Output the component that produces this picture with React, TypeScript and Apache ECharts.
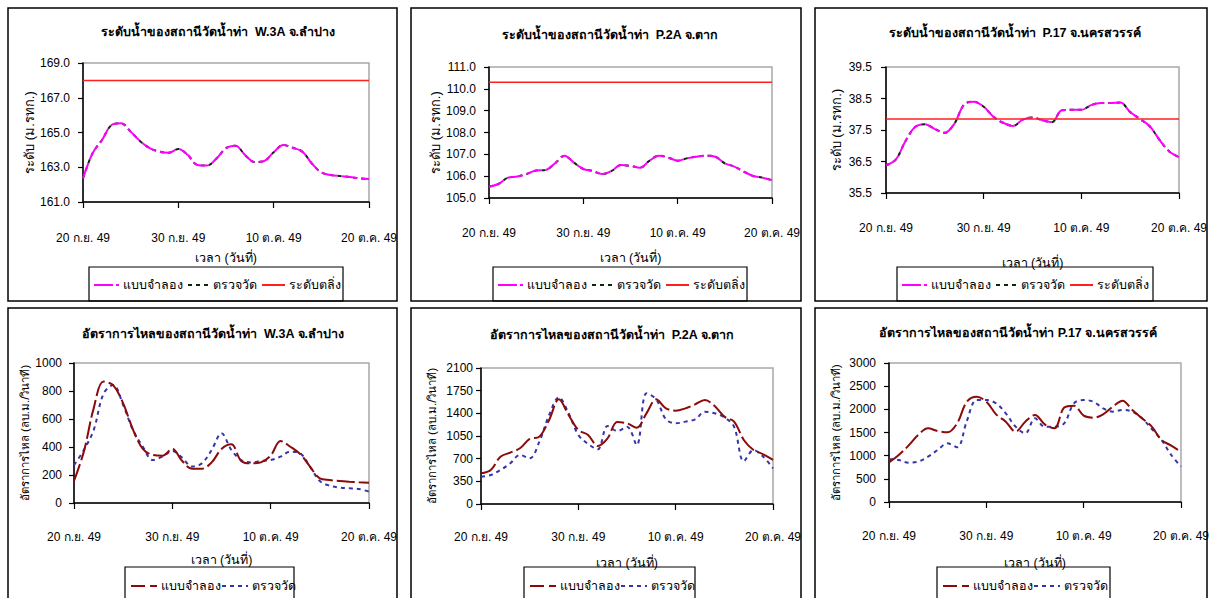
import React, { useEffect, useRef } from "react";
import * as echarts from "echarts";

// ---------- data ----------
const X_TICKS = [0, 10, 20, 30];
const X_TICK_LABELS = ["20 ก.ย. 49", "30 ก.ย. 49", "10 ต.ค. 49", "20 ต.ค. 49"];
const X_NAME = "เวลา (วันที่)";

const TITLES = [
  "ระดับน้ำของสถานีวัดน้ำท่า  W.3A จ.ลำปาง",
  "ระดับน้ำของสถานีวัดน้ำท่า  P.2A จ.ตาก",
  "ระดับน้ำของสถานีวัดน้ำท่า  P.17 จ.นครสวรรค์",
  "อัตราการไหลของสถานีวัดน้ำท่า  W.3A จ.ลำปาง",
  "อัตราการไหลของสถานีวัดน้ำท่า  P.2A จ.ตาก",
  "อัตราการไหลของสถานีวัดน้ำท่า P.17 จ.นครสวรรค์",
];
const Y_NAME_LEVEL = "ระดับ (ม.รทก.)";
const Y_NAME_FLOW = "อัตราการไหล (ลบ.ม./วินาที)";
const NAME_MODEL = "แบบจำลอง";
const NAME_OBS = "ตรวจวัด";
const NAME_BANK = "ระดับตลิ่ง";

// water levels (model and observed coincide)
const LEVEL_W3A = [162.36, 163.8, 164.57, 165.43, 165.53, 165.05, 164.5, 164.1, 163.9, 163.84, 164.05, 163.7, 163.13, 163.1, 163.5, 164.1, 164.24, 163.7, 163.3, 163.36, 163.86, 164.28, 164.12, 163.9, 163.22, 162.7, 162.55, 162.49, 162.44, 162.36, 162.32];
const LEVEL_P2A = [105.52, 105.64, 105.93, 105.98, 106.1, 106.26, 106.28, 106.59, 106.94, 106.62, 106.33, 106.24, 106.1, 106.24, 106.51, 106.47, 106.39, 106.7, 106.94, 106.85, 106.71, 106.82, 106.89, 106.94, 106.89, 106.59, 106.44, 106.21, 106.01, 105.93, 105.82];
const LEVEL_P17 = [36.38, 36.56, 37.15, 37.6, 37.68, 37.53, 37.41, 37.7, 38.31, 38.4, 38.24, 37.92, 37.73, 37.63, 37.83, 37.9, 37.81, 37.75, 38.13, 38.14, 38.14, 38.29, 38.36, 38.36, 38.37, 38.07, 37.85, 37.62, 37.19, 36.82, 36.64];
const BANK_W3A = 168.0;
const BANK_P2A = 110.3;
const BANK_P17 = 37.85;

// discharges
const FLOW_W3A_MODEL = [157, 367, 676, 867, 840, 712, 524, 386, 343, 338, 386, 300, 245, 245, 290, 386, 419, 300, 283, 290, 338, 443, 402, 350, 260, 176, 164, 157, 152, 148, 145];
const FLOW_W3A_OBS = [271, 379, 521, 780, 843, 700, 521, 402, 307, 331, 371, 324, 260, 283, 379, 498, 379, 307, 290, 300, 307, 331, 367, 355, 260, 157, 124, 110, 105, 100, 81];
const FLOW_P2A_MODEL = [474, 525, 731, 793, 860, 1004, 1040, 1297, 1616, 1374, 1143, 1066, 896, 1014, 1266, 1246, 1179, 1400, 1616, 1477, 1441, 1477, 1539, 1606, 1513, 1349, 1272, 989, 834, 767, 680];
const FLOW_P2A_OBS = [422, 448, 525, 628, 757, 705, 963, 1374, 1647, 1400, 1066, 927, 844, 1204, 1127, 1194, 911, 1709, 1616, 1307, 1246, 1272, 1307, 1426, 1400, 1338, 1194, 660, 834, 731, 551];
const FLOW_P17_MODEL = [856, 1014, 1216, 1446, 1590, 1532, 1504, 1698, 2165, 2273, 2165, 1892, 1734, 1518, 1734, 1878, 1676, 1590, 2040, 2080, 1863, 1820, 1892, 2058, 2187, 1986, 1806, 1626, 1338, 1216, 1086];
const FLOW_P17_OBS = [928, 906, 849, 871, 978, 1122, 1266, 1180, 1750, 2201, 2201, 2129, 1914, 1626, 1482, 1806, 1626, 1626, 1698, 2129, 2201, 2165, 2022, 1950, 1986, 1950, 1806, 1576, 1338, 1014, 763];

// y tick values
const Y_TICKS_LEVEL_W3A = [161, 163, 165, 167, 169];
const Y_TICKS_LEVEL_P2A = [105, 106, 107, 108, 109, 110, 111];
const Y_TICKS_LEVEL_P17 = [35.5, 36.5, 37.5, 38.5, 39.5];
const Y_TICKS_FLOW_W3A = [0, 200, 400, 600, 800, 1000];
const Y_TICKS_FLOW_P2A = [0, 350, 700, 1050, 1400, 1750, 2100];
const Y_TICKS_FLOW_P17 = [0, 500, 1000, 1500, 2000, 2500, 3000];

// ---------- styling / layout ----------
const FONT = "'Liberation Sans', Arial, 'DejaVu Sans', sans-serif";
const C_MAGENTA = "#ff00ff";
const C_OBS_TOP = "#0a2a0a";
const C_BANK = "#ff1f1f";
const C_MODEL_BOT = "#8b0a0a";
const C_OBS_BOT = "#3535a8";

const LAYOUT = [
  { box: [8, 8, 389, 293], grid: [83, 63, 286, 139], title: [218, 33], xLM: 30, xNG: 49, yLM: 13, yNG: 44, legend: [89, 267, 254, 34] },
  { box: [411, 8, 390, 293], grid: [489, 67, 283, 131], title: [610, 36], xLM: 29, xNG: 53, yLM: 13, yNG: 46, legend: [493, 267, 254, 34] },
  { box: [815, 8, 392, 293], grid: [886, 67, 293, 126], title: [1015, 34], xLM: 29, xNG: 63, yLM: 14, yNG: 43, legend: [897, 267, 256, 34] },
  { box: [8, 308, 389, 300], grid: [74, 363, 295, 140], title: [213, 335], xLM: 28, xNG: 50, yLM: 12, yNG: 40, legend: [125, 567, 169, 40] },
  { box: [411, 308, 390, 300], grid: [481, 368, 292, 136], title: [612, 336], xLM: 27, xNG: 52, yLM: 8, yNG: 43, legend: [524, 567, 171, 40] },
  { box: [815, 308, 392, 300], grid: [889, 363, 292, 139], title: [1018, 334], xLM: 28, xNG: 54, yLM: 13, yNG: 47, legend: [937, 567, 173, 40] },
];

const toXY = (arr: number[]) => arr.map((v, i) => [i, v]);

function buildOption() {
  const yTicks = [Y_TICKS_LEVEL_W3A, Y_TICKS_LEVEL_P2A, Y_TICKS_LEVEL_P17, Y_TICKS_FLOW_W3A, Y_TICKS_FLOW_P2A, Y_TICKS_FLOW_P17];
  const levels = [LEVEL_W3A, LEVEL_P2A, LEVEL_P17];
  const banks = [BANK_W3A, BANK_P2A, BANK_P17];
  const flows = [
    [FLOW_W3A_MODEL, FLOW_W3A_OBS],
    [FLOW_P2A_MODEL, FLOW_P2A_OBS],
    [FLOW_P17_MODEL, FLOW_P17_OBS],
  ];

  const grid: any[] = [];
  const xAxis: any[] = [];
  const yAxis: any[] = [];
  const title: any[] = [];
  const series: any[] = [];
  const graphic: any[] = [];

  LAYOUT.forEach((L, i) => {
    const isLevel = i < 3;
    const ticks = yTicks[i];
    grid.push({
      left: L.grid[0], top: L.grid[1], width: L.grid[2], height: L.grid[3],
      show: true, borderColor: "#a8a8a8", borderWidth: 1.5, backgroundColor: "transparent",
    });
    title.push({
      text: TITLES[i], left: L.title[0], top: L.title[1] - 8, textAlign: "center", padding: 0,
      textStyle: { fontSize: 12.5, fontWeight: "bold", fontFamily: FONT, color: "#000" },
    });
    xAxis.push({
      type: "value", gridIndex: i, min: X_TICKS[0], max: X_TICKS[X_TICKS.length - 1], interval: 10,
      axisLine: { show: true, onZero: false, lineStyle: { color: "#000", width: 1.5 } },
      axisTick: { show: true, length: 6, lineStyle: { color: "#000", width: 1.2 } },
      axisLabel: {
        margin: L.xLM, fontSize: 12, fontFamily: FONT, color: "#000",
        formatter: (v: number) => X_TICK_LABELS[X_TICKS.indexOf(v)] ?? "",
      },
      splitLine: { show: false },
      name: X_NAME, nameLocation: "middle", nameGap: L.xNG,
      nameTextStyle: { fontSize: 12.5, fontFamily: FONT, color: "#000" },
    });
    yAxis.push({
      type: "value", gridIndex: i, min: ticks[0], max: ticks[ticks.length - 1],
      axisLine: { show: true, lineStyle: { color: "#000", width: 1.5 } },
      axisTick: { show: true, length: 5, customValues: ticks, lineStyle: { color: "#000", width: 1.2 } },
      axisLabel: {
        customValues: ticks, margin: L.yLM, fontSize: 12, fontFamily: FONT, color: "#000",
        formatter: (v: number) => (isLevel ? v.toFixed(1) : String(Math.round(v))),
      },
      splitLine: { show: false },
      name: isLevel ? Y_NAME_LEVEL : Y_NAME_FLOW, nameLocation: "middle", nameGap: L.yNG,
      nameTextStyle: { fontSize: isLevel ? 13 : 11.5, fontFamily: FONT, color: "#000" },
    });

    if (isLevel) {
      const data = toXY(levels[i]);
      series.push({
        type: "line", name: NAME_OBS, xAxisIndex: i, yAxisIndex: i, data, smooth: 0.35,
        showSymbol: false, lineStyle: { color: C_OBS_TOP, width: 2, type: [4, 4] },
      });
      series.push({
        type: "line", name: NAME_MODEL, xAxisIndex: i, yAxisIndex: i, data, smooth: 0.35,
        showSymbol: false, lineStyle: { color: C_MAGENTA, width: 2, type: [16, 4] },
      });
      series.push({
        type: "line", name: NAME_BANK, xAxisIndex: i, yAxisIndex: i,
        data: [[X_TICKS[0], banks[i]], [X_TICKS[X_TICKS.length - 1], banks[i]]],
        showSymbol: false, lineStyle: { color: C_BANK, width: 1.5 },
      });
    } else {
      const [model, obs] = flows[i - 3];
      series.push({
        type: "line", name: NAME_OBS, xAxisIndex: i, yAxisIndex: i, data: toXY(obs), smooth: 0.35,
        showSymbol: false, lineStyle: { color: C_OBS_BOT, width: 2, type: [4, 4] },
      });
      series.push({
        type: "line", name: NAME_MODEL, xAxisIndex: i, yAxisIndex: i, data: toXY(model), smooth: 0.35,
        showSymbol: false, lineStyle: { color: C_MODEL_BOT, width: 2, type: [18, 4] },
      });
    }

    // panel frame
    graphic.push({
      type: "rect", shape: { x: L.box[0], y: L.box[1], width: L.box[2], height: L.box[3] },
      style: { fill: "none", stroke: "#000", lineWidth: 1.5 }, silent: true, z: 1,
    });

    // legend box
    const [lx, ly, lw, lh] = L.legend;
    const items = isLevel
      ? [
          { c: C_MAGENTA, d: [19, 3], a: 5, b: 30, t: 34, s: NAME_MODEL },
          { c: C_OBS_TOP, d: [4, 4], a: 99, b: 120, t: 124, s: NAME_OBS },
          { c: C_BANK, d: null, a: 173, b: 196, t: 200, s: NAME_BANK },
        ]
      : [
          { c: C_MODEL_BOT, d: [14, 5], a: 6, b: 32, t: 36, s: NAME_MODEL },
          { c: C_OBS_BOT, d: [4, 4], a: 97, b: 123, t: 127, s: NAME_OBS },
        ];
    const cy = ly + (isLevel ? 18 : 19);
    const children: any[] = [
      { type: "rect", shape: { x: lx, y: ly, width: lw, height: lh }, style: { fill: "#fff", stroke: "#000", lineWidth: 1.2 } },
    ];
    items.forEach((it) => {
      children.push({
        type: "line", shape: { x1: lx + it.a, y1: cy, x2: lx + it.b, y2: cy },
        style: { stroke: it.c, lineWidth: 2, lineDash: it.d || undefined },
      });
      children.push({
        type: "text", x: lx + it.t, y: cy,
        style: { text: it.s, fill: "#000", fontSize: 12.5, fontFamily: FONT, verticalAlign: "middle", align: "left" },
      });
    });
    graphic.push({ type: "group", silent: true, z: 2, children });
  });

  return {
    animation: false,
    backgroundColor: "#fff",
    title, grid, xAxis, yAxis, series, graphic,
  };
}

export default function App() {
  const ref = useRef<HTMLDivElement>(null);
  useEffect(() => {
    if (!ref.current) return;
    const chart = echarts.init(ref.current, undefined, { renderer: "svg" });
    chart.setOption(buildOption() as any);
    return () => chart.dispose();
  }, []);
  return (
    <div
      ref={ref}
      style={{ position: "fixed", left: 0, top: 0, width: 1212, height: 598, background: "#fff" }}
    />
  );
}
